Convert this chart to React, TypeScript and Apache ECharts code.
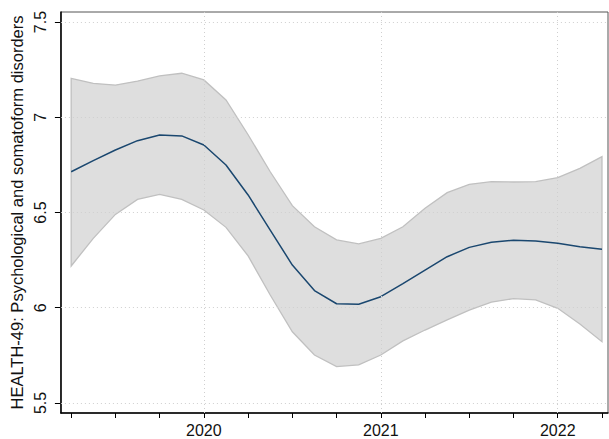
import React, { useEffect, useRef } from "react";
import * as echarts from "echarts";

const xs = [
  2019.25, 2019.375, 2019.5, 2019.625, 2019.75, 2019.875, 2020.0, 2020.125, 2020.25,
  2020.375, 2020.5, 2020.625, 2020.75, 2020.875, 2021.0, 2021.125, 2021.25, 2021.375,
  2021.5, 2021.625, 2021.75, 2021.875, 2022.0, 2022.125, 2022.25,
];
const meanValues = [
  6.714, 6.772, 6.828, 6.877, 6.907, 6.902, 6.854, 6.749, 6.592, 6.408, 6.224, 6.09,
  6.021, 6.018, 6.058, 6.127, 6.198, 6.268, 6.317, 6.344, 6.354, 6.35, 6.338, 6.32, 6.307,
];
const upperValues = [
  7.204, 7.178, 7.169, 7.19, 7.217, 7.231, 7.196, 7.091, 6.908, 6.714, 6.536, 6.425,
  6.356, 6.335, 6.364, 6.425, 6.522, 6.604, 6.648, 6.662, 6.66, 6.662, 6.683, 6.732, 6.793,
];
const lowerValues = [
  6.219, 6.364, 6.49, 6.569, 6.595, 6.569, 6.513, 6.422, 6.272, 6.067, 5.874, 5.752,
  5.691, 5.7, 5.752, 5.826, 5.883, 5.936, 5.988, 6.029, 6.048, 6.041, 5.997, 5.915, 5.822,
];
const xTickValues = [
  2019.25, 2019.5, 2019.75, 2020, 2020.25, 2020.5, 2020.75, 2021, 2021.25, 2021.5,
  2021.75, 2022, 2022.25,
];
const xLabelValues = [2020, 2021, 2022];
const yTickValues = [5.5, 6, 6.5, 7, 7.5];
const yAxisTitle = "HEALTH-49: Psychological and somatoform disorders";

const FONT = "'Liberation Sans', Arial, Helvetica, sans-serif";

export default function App() {
  const ref = useRef<HTMLDivElement>(null);
  useEffect(() => {
    if (!ref.current) return;
    const chart = echarts.init(ref.current, null, { renderer: "svg" });
    const gridStyle = { type: [1, 3], color: "#cfcfcf", width: 1 };
    chart.setOption({
      animation: false,
      textStyle: { fontFamily: FONT },
      grid: {
        left: 53,
        right: 1,
        top: 12,
        bottom: 26,
        show: true,
        borderColor: "#555",
        borderWidth: 1,
        backgroundColor: "transparent",
      },
      xAxis: {
        type: "value",
        min: 2019.192,
        max: 2022.284,
        splitLine: { show: false },
        axisLine: { show: true, onZero: false, lineStyle: { color: "#000", width: 1.5 } },
        axisTick: {
          show: true,
          length: 5,
          customValues: xTickValues,
          lineStyle: { color: "#000", width: 1 },
        },
        axisLabel: {
          customValues: xLabelValues,
          fontSize: 16,
          color: "#111",
          margin: 9,
          fontFamily: FONT,
          formatter: (v: number) => String(Math.round(v)),
        },
      },
      yAxis: {
        type: "value",
        min: 5.4475,
        max: 7.5525,
        splitLine: { show: false },
        axisLine: { show: true, onZero: false, lineStyle: { color: "#000", width: 1.5 } },
        axisTick: {
          show: true,
          length: 6,
          customValues: yTickValues,
          lineStyle: { color: "#000", width: 1 },
        },
        axisLabel: {
          customValues: yTickValues,
          rotate: 90,
          fontSize: 16,
          color: "#111",
          margin: 12,
          fontFamily: FONT,
          formatter: (v: number) => String(v),
        },
        name: yAxisTitle,
        nameLocation: "middle",
        nameGap: 31,
        nameTextStyle: { fontSize: 16.5, color: "#111", fontFamily: FONT },
      },
      series: [
        {
          type: "custom",
          z: 1,
          silent: true,
          data: [[xs[0], lowerValues[0]]],
          renderItem: (params: any, api: any) => {
            if (params.dataIndex !== 0) return null;
            const up = xs.map((x, i) => api.coord([x, upperValues[i]]));
            const lo = xs.map((x, i) => api.coord([x, lowerValues[i]])).reverse();
            return {
              type: "polygon",
              shape: { points: [...up, ...lo] },
              style: { fill: "#dedede", stroke: "#c0c0c0", lineWidth: 1.3 },
            };
          },
        },
        {
          type: "line",
          z: 2,
          silent: true,
          symbol: "none",
          data: xs.map((x, i) => [x, meanValues[i]]),
          lineStyle: { opacity: 0 },
          markLine: {
            silent: true,
            symbol: ["none", "none"],
            label: { show: false },
            lineStyle: gridStyle,
            data: [
              ...xLabelValues.map((v) => ({ xAxis: v })),
              ...yTickValues.map((v) => ({ yAxis: v })),
            ],
          },
        },
        {
          type: "line",
          z: 3,
          silent: true,
          symbol: "none",
          data: xs.map((x, i) => [x, meanValues[i]]),
          lineStyle: { color: "#1a476f", width: 1.5 },
        },
      ],
    });
    return () => chart.dispose();
  }, []);
  return (
    <div
      ref={ref}
      style={{ position: "fixed", left: 0, top: 0, width: 609, height: 439, background: "#fff" }}
    />
  );
}
